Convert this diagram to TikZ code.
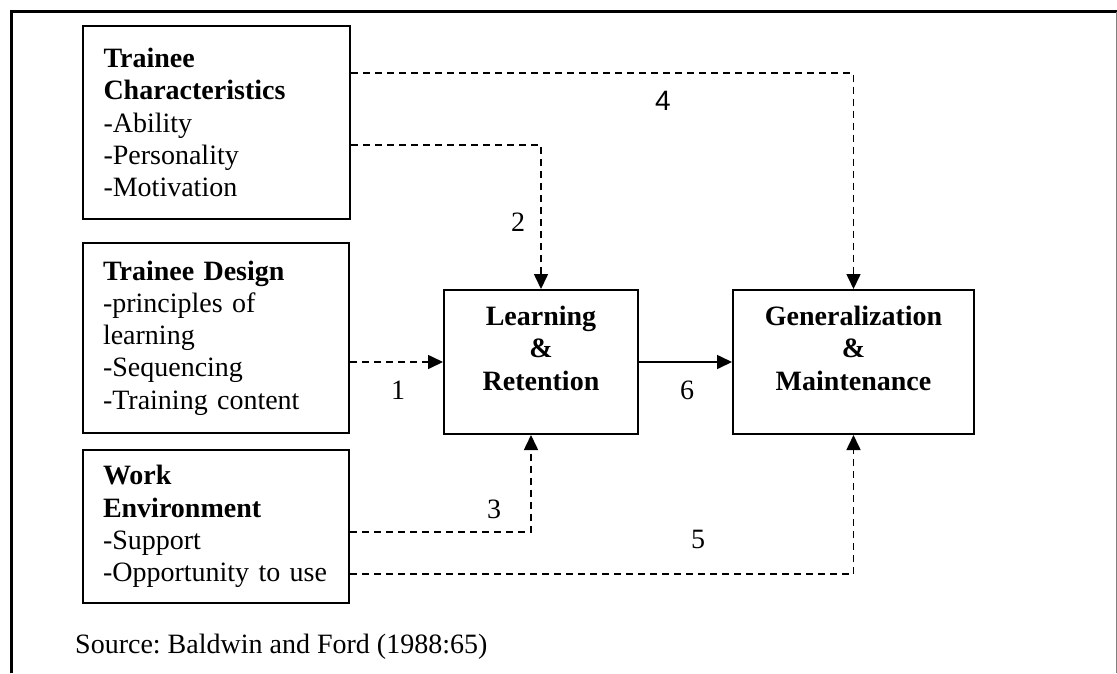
\documentclass[tikz,border=0pt]{standalone}
\usepackage{fontspec}
\setmainfont{Liberation Serif}
\newfontfamily\arialfont{Liberation Sans}
\usetikzlibrary{arrows.meta,calc}
\frenchspacing

\tikzset{
  box/.style={draw, line width=2pt, rectangle, anchor=north west, inner ysep=0pt},
  lbox/.style={box, text width=226pt, inner xsep=20pt, align=left},
  cbox/.style={box},
  btxt/.style={anchor=north, align=center, inner sep=0pt, font=\fontsize{28}{32.3}\selectfont\bfseries},
  num/.style={inner sep=0pt},
  flow/.style={line width=1.6pt, -{Triangle[length=15pt,width=14pt]}},
  dflow/.style={flow, dash pattern=on 7pt off 5pt},
}

\begin{document}
\begin{tikzpicture}[x=1pt, y=-1pt, font=\fontsize{28}{32.3}\selectfont]
\useasboundingbox (0,0) rectangle (1117,673);

% outer frame (open at the bottom)
\draw[line width=3pt] (11.5,673) -- (11.5,11.5) -- (1117,11.5);
\draw[gray, line width=1pt] (1116.5,11.5) -- (1116.5,673);

% input factors
\node[lbox, minimum width=267pt, minimum height=193pt] (tc) at (82,25)
  {\textbf{Trainee}\\\textbf{Characteristics}\\-Ability\\-Personality\\-Motivation};
\node[lbox, minimum width=266pt, minimum height=190pt] (td) at (82,242)
  {\textbf{Trainee Design}\\-principles of\\learning\\-Sequencing\\-Training content};
\node[lbox, minimum width=266pt, minimum height=153pt] (we) at (82,449)
  {\textbf{Work}\\\textbf{Environment}\\-Support\\-Opportunity~to~use};

% outcomes
\node[cbox, minimum width=194pt, minimum height=144pt] (lr) at (443,289) {};
\node[cbox, minimum width=241pt, minimum height=144pt] (gm) at (732,289) {};
\node[btxt] (lrt) at ($(lr.north)+(0,17)$) {Learning\\\&\\Retention};
\node[btxt] (gmt) at ($(gm.north)+(0,17)$) {Generalization\\\&\\Maintenance};

% links
\draw[dflow] (lr.west -| td.east) -- (lr.west);
\draw[dflow] ($(tc.north east)+(0,120)$) -| (lr.north);
\draw[dflow] ($(we.north east)+(0,83)$) -| ([xshift=-10pt]lr.south);
\draw[dflow] ($(tc.north east)+(0,48)$) -| (gm.north);
\draw[dflow] ($(we.north east)+(0,125)$) -| (gm.south);
\draw[flow] (lr.east) -- (gm.west);

% link numbers
\node[num] (n1) at (398,390) {1};
\node[num] (n2) at (518,222) {2};
\node[num] (n3) at (494,509) {3};
\node[num, font=\arialfont\fontsize{28}{32}\selectfont] (n4) at (663,101) {4};
\node[num] (n5) at (698,539) {5};
\node[num] (n6) at (687,390) {6};

% source line
\node[anchor=base west, inner sep=0pt] (src) at (75,653) {Source: Baldwin and Ford (1988:65)};
\end{tikzpicture}
\end{document}
